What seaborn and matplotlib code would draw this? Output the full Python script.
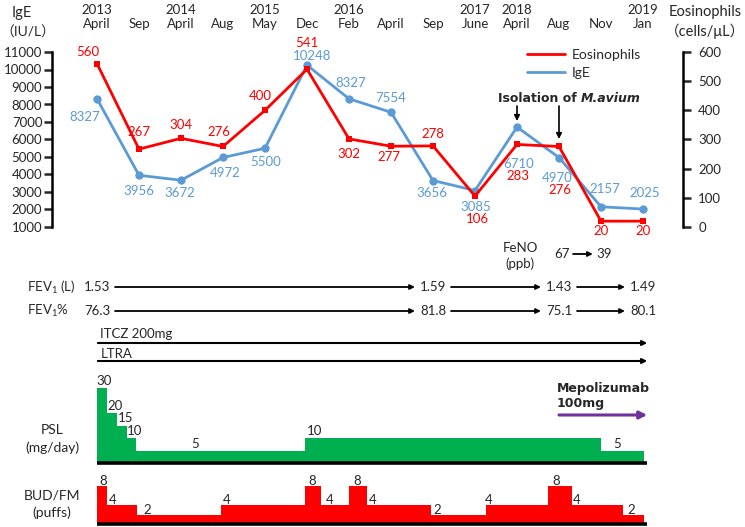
import numpy as np
import matplotlib
matplotlib.use("Agg")
import matplotlib.pyplot as plt
import seaborn as sns
from matplotlib.lines import Line2D
from matplotlib.transforms import blended_transform_factory

# time points (equally spaced on the chart)
months = ['April', 'Sep', 'April', 'Aug', 'May', 'Dec', 'Feb', 'April', 'Sep', 'June', 'April', 'Aug', 'Nov', 'Jan']
years = ['2013', '', '2014', '', '2015', '', '2016', '', '', '2017', '2018', '', '', '2019']
idx = list(range(len(months)))

ige = [8327, 3956, 3672, 4972, 5500, 10248, 8327, 7554, 3656, 3085, 6710, 4970, 2157, 2025]
eos = [560, 267, 304, 276, 400, 541, 302, 277, 278, 106, 283, 276, 20, 20]

# label offsets (pixels) for the data labels
ige_off = [(-12, -18), (0, -16), (-1, -13), (2, -16), (1, -14), (5, 9), (2, 16),
           (0, 14), (-1, -12), (1, -16), (2, -37), (-2, -20), (4, 18), (2, 16)]
eos_off = [(-9, 12), (0, 17), (0, 13), (-4, 15), (-5, 14), (0, 26), (0, -15),
           (-2, -11), (0, 12), (2, -23), (1, -32), (1, -44), (0, -10), (0, -10)]

# lung function
fev_idx = [0, 8, 11, 13]
fev1_l = ['1.53', '1.59', '1.43', '1.49']
fev1_pct = ['76.3', '81.8', '75.1', '80.1']
feno_idx = [11, 12]
feno = ['67', '39']

# treatment steps (x in time-point units)
psl_edges = [0, 0.24, 0.48, 0.71, 0.93, 4.95, 12.0, 13.02]
psl_dose = [30, 20, 15, 10, 5, 10, 5]
psl_label_x = [0.17, 0.43, 0.67, 0.9, 2.33, 5.19, 12.38]

bud_edges = [0, 0.24, 0.95, 2.95, 4.95, 5.33, 6.0, 6.43, 7.95, 9.26, 10.74, 11.31, 12.52, 13.02]
bud_puffs = [8, 4, 2, 4, 8, 4, 8, 4, 2, 4, 8, 4, 2]
bud_label_x = [0.14, 0.38, 1.19, 3.1, 5.12, 5.55, 6.19, 6.57, 8.1, 9.33, 10.93, 11.43, 12.71]

RED = '#FF0000'
BLUE = '#5B9BD5'
GREEN = '#00B050'
PURPLE = '#7030A0'
FS = 9.5

sns.set_theme(style='white')
plt.rcParams['font.family'] = ['Lato', 'Noto Sans CJK JP', 'DejaVu Sans']
plt.rcParams['mathtext.fontset'] = 'custom'
plt.rcParams['mathtext.rm'] = 'Lato'
plt.rcParams['mathtext.it'] = 'Lato:italic'

W, H = 745, 527
def fx(p):
    return p / W
def fy(p):
    return 1 - p / H

fig = plt.figure(figsize=(W / 100, H / 100), dpi=100)
xlim = ((52 - 97) / 42, (683 - 97) / 42)

# ---- main chart ----
ax = fig.add_axes([fx(52), fy(227), fx(683) - fx(52), (227 - 52) / H])
sns.lineplot(x=idx, y=ige, ax=ax, color=BLUE, marker='o', markersize=6,
             markeredgewidth=0, linewidth=2, legend=False)
ax.set_xlim(*xlim)
ax.set_ylim(1000, 11000)
ax.set_yticks(range(1000, 11001, 1000))
ax.set_xticks(idx)
ax.set_xticklabels([f'{y}\n{m}' for y, m in zip(years, months)], fontsize=FS)
for t in ax.get_xticklabels():
    t.set_linespacing(1.45)
ax.xaxis.tick_top()
ax.tick_params(axis='x', length=0, pad=16)
ax.tick_params(axis='y', direction='out', length=6, width=1.8, pad=1, labelsize=FS, left=True)
for s in ['top', 'bottom', 'right']:
    ax.spines[s].set_visible(False)
ax.spines['left'].set_linewidth(1.8)
ax.spines['left'].set_color('black')

ax2 = ax.twinx()
sns.lineplot(x=idx, y=eos, ax=ax2, color=RED, marker='s', markersize=4,
             markeredgewidth=0, linewidth=2, legend=False)
ax2.set_ylim(0, 600)
ax2.set_xlim(*xlim)
ax2.set_yticks(range(0, 601, 100))
ax2.tick_params(axis='y', direction='out', length=6, width=1.8, pad=5, labelsize=FS, right=True)
for s in ['top', 'bottom', 'left']:
    ax2.spines[s].set_visible(False)
ax2.spines['right'].set_linewidth(1.8)
ax2.spines['right'].set_color('black')
ax.set_xlabel('')
ax.set_ylabel('')
ax2.set_ylabel('')

for xi, v, (dx, dy) in zip(idx, ige, ige_off):
    ax.annotate(str(v), (xi, v), xytext=(dx, dy), textcoords='offset pixels',
                ha='center', va='center', color=BLUE, fontsize=FS)
for xi, v, (dx, dy) in zip(idx, eos, eos_off):
    ax2.annotate(str(v), (xi, v), xytext=(dx, dy), textcoords='offset pixels',
                 ha='center', va='center', color=RED, fontsize=FS)

fig.text(fx(22), fy(13), 'IgE', ha='center', va='center', fontsize=10.5)
fig.text(fx(0), fy(32), '（IU/L）', ha='left', va='center', fontsize=10)
fig.text(fx(705), fy(22), 'Eosinophils\n（cells/μL）', ha='center', va='center', fontsize=10.5, linespacing=1.3)

handles = [Line2D([], [], color=RED, lw=2), Line2D([], [], color=BLUE, lw=2)]
ax2.legend(handles, ['Eosinophils', 'IgE'], loc='upper left', bbox_to_anchor=(fx(527), fy(49)),
           bbox_transform=fig.transFigure, frameon=False, borderpad=0, borderaxespad=0,
           handlelength=2.7, handletextpad=0.5, labelspacing=0.45, fontsize=10)

trx = blended_transform_factory(ax.transData, fig.transFigure)

# M. avium isolation
t1 = ax.text((498 - 97) / 42, fy(98), 'Isolation of ', transform=trx, ha='left', va='center',
             fontsize=9, fontweight='bold', family='DejaVu Sans')
ax.annotate('M.avium', xy=(1, 0.5), xycoords=t1, ha='left', va='center', fontsize=9,
            fontweight='bold', fontstyle='italic', family='DejaVu Sans')
for xi, ytip in [(10, 121), (11, 139)]:
    ax.annotate('', xy=(xi, fy(ytip)), xycoords=trx, xytext=(xi, fy(106)), textcoords=trx,
                arrowprops=dict(arrowstyle='-|>', color='black', lw=1.2, mutation_scale=8,
                                shrinkA=0, shrinkB=0))

# FeNO
ax.text(10.07, fy(256), 'FeNO\n(ppb)', transform=trx, ha='center', va='center', fontsize=FS, linespacing=1.3)
for xi, v in zip(feno_idx, feno):
    ax.text(xi + 0.07, fy(254), v, transform=trx, ha='center', va='center', fontsize=FS)
ax.annotate('', xy=(feno_idx[1] + 0.07, fy(254)), xycoords=trx, xytext=(feno_idx[0] + 0.07, fy(254)),
            textcoords=trx, arrowprops=dict(arrowstyle='-|>', color='black', lw=1.3,
                                            mutation_scale=7, shrinkA=8, shrinkB=8))

# FEV1 rows
fig.text(fx(27), fy(287), 'FEV$_1$ (L)', ha='left', va='center', fontsize=FS)
fig.text(fx(27), fy(311), 'FEV$_1$%', ha='left', va='center', fontsize=FS)
for row_y, vals in [(287, fev1_l), (311, fev1_pct)]:
    for xi, v in zip(fev_idx, vals):
        ax.text(xi, fy(row_y), v, transform=trx, ha='center', va='center', fontsize=FS)
    for a, b in zip(fev_idx[:-1], fev_idx[1:]):
        ax.annotate('', xy=(b, fy(row_y)), xycoords=trx, xytext=(a, fy(row_y)), textcoords=trx,
                    arrowprops=dict(arrowstyle='-|>', color='black', lw=1.3, mutation_scale=7,
                                    shrinkA=13, shrinkB=13))

# long-term drugs
for name, ty, ly in [('ITCZ 200mg', 334, 343), ('LTRA', 354, 361)]:
    ax.text(0.08, fy(ty), name, transform=trx, ha='left', va='center', fontsize=FS)
    ax.annotate('', xy=(13.1, fy(ly)), xycoords=trx, xytext=(0.02, fy(ly)), textcoords=trx,
                arrowprops=dict(arrowstyle='-|>', color='black', lw=1.5, mutation_scale=7,
                                shrinkA=0, shrinkB=0))

# mepolizumab
ax.text(10.95, fy(396), 'Mepolizumab\n100mg', transform=trx, ha='left', va='center',
        fontsize=9, fontweight='bold', family='DejaVu Sans', linespacing=1.25)
ax.annotate('', xy=(13.1, fy(415)), xycoords=trx, xytext=(11.0, fy(415)), textcoords=trx,
            arrowprops=dict(arrowstyle='-|>', color=PURPLE, lw=2.2, mutation_scale=11,
                            shrinkA=0, shrinkB=0))

# ---- PSL panel ----
axp = fig.add_axes([fx(52), fy(463), fx(683) - fx(52), 75 / H])
axp.stairs(psl_dose, psl_edges, fill=True, color=GREEN)
axp.hlines(0, 0, 13.1, color='black', lw=2.6, clip_on=False)
axp.set_xlim(*xlim)
axp.set_ylim(0, 30)
axp.axis('off')
for lx, v in zip(psl_label_x, psl_dose):
    axp.annotate(str(v), (lx, v), xytext=(0, 3), textcoords='offset pixels', ha='center',
                 va='baseline', fontsize=FS, annotation_clip=False)
fig.text(fx(52), fy(439), 'PSL\n(mg/day)', ha='center', va='center', fontsize=10, linespacing=1.45)

# ---- BUD/FM panel ----
axb = fig.add_axes([fx(52), fy(524), fx(683) - fx(52), 38 / H])
axb.stairs(bud_puffs, bud_edges, fill=True, color=RED)
axb.hlines(0, 0, 13.1, color='black', lw=2.6, clip_on=False)
axb.set_xlim(*xlim)
axb.set_ylim(0, 8)
axb.axis('off')
for lx, v in zip(bud_label_x, bud_puffs):
    axb.annotate(str(v), (lx, v), xytext=(0, 1), textcoords='offset pixels', ha='center',
                 va='baseline', fontsize=FS, annotation_clip=False)
fig.text(fx(52), fy(504), 'BUD/FM\n(puffs)', ha='center', va='center', fontsize=10, linespacing=1.45)

fig.savefig('out.png', dpi=100)
